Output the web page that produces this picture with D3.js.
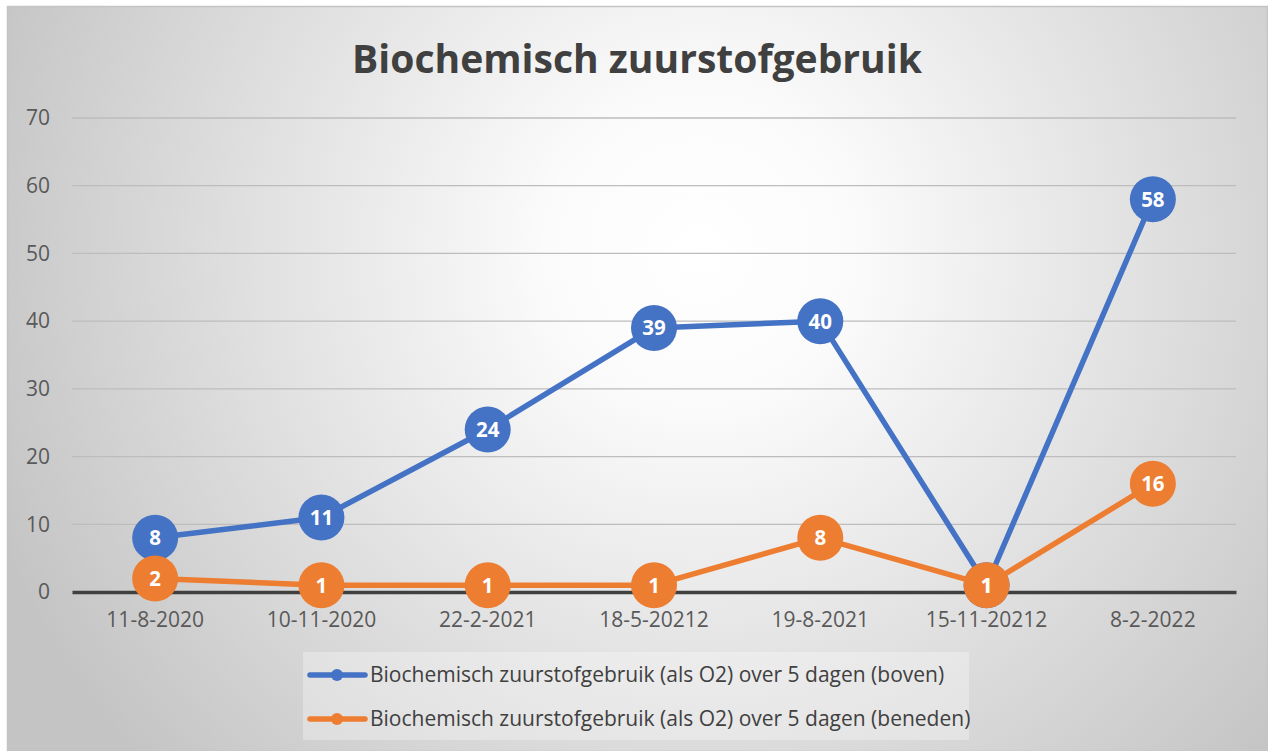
<!DOCTYPE html>
<html>
<head>
<meta charset="utf-8" />
<title>Biochemisch zuurstofgebruik</title>
<style>
html, body { margin:0; padding:0; background:#ffffff; }
svg { display:block; font-family:"Open Sans","Noto Sans",sans-serif; }
</style>
<script src="https://d3js.org/d3.v7.min.js"></script>
</head>
<body>
<script>
// data
var categories = ["11-8-2020","10-11-2020","22-2-2021","18-5-20212","19-8-2021","15-11-20212","8-2-2022"];
var boven = [8, 11, 24, 39, 40, 1, 58];
var beneden = [2, 1, 1, 1, 8, 1, 16];
var seriesNames = ["Biochemisch zuurstofgebruik (als O2) over 5 dagen (boven)",
                   "Biochemisch zuurstofgebruik (als O2) over 5 dagen (beneden)"];
var seriesColors = ["#4472C4", "#ED7D31"];
var yTicks = [0,10,20,30,40,50,60,70];

var W = 1268, H = 751;
var svg = d3.select("body").append("svg").attr("width", W).attr("height", H);

var defs = svg.append("defs");
var grad = defs.append("radialGradient").attr("id","bg")
  .attr("gradientUnits","userSpaceOnUse")
  .attr("cx",700).attr("cy",250).attr("r",760);
grad.append("stop").attr("offset","0%").attr("stop-color","#ffffff");
grad.append("stop").attr("offset","20%").attr("stop-color","#fbfbfb");
grad.append("stop").attr("offset","100%").attr("stop-color","#c4c4c4");

svg.append("rect").attr("x",7.5).attr("y",6.5).attr("width",W-8).attr("height",H-6)
  .attr("fill","url(#bg)").attr("stroke","#c4c4c4").attr("stroke-width",1.5);

// title
var title = svg.append("text").attr("x",637).attr("y",73).attr("text-anchor","middle")
  .attr("font-size",36).attr("font-weight","bold").attr("fill","#404040")
  .text("Biochemisch zuurstofgebruik");
var tw = title.node().getComputedTextLength();
title.attr("font-size", 36*570/tw);

// scales
var x = d3.scaleBand().domain(categories).range([72,1236]);
var y = d3.scaleLinear().domain([0,70]).range([592,118]);
var cx = function(c){ return x(c) + x.bandwidth()/2; };

// gridlines
svg.append("g").selectAll("line").data(yTicks.filter(function(d){return d>0;})).join("line")
  .attr("x1",72).attr("x2",1236)
  .attr("y1",function(d){return y(d);}).attr("y2",function(d){return y(d);})
  .attr("stroke","#bdbdbd").attr("stroke-width",1.3);

// y axis labels
var yAxis = svg.append("g").attr("transform","translate(60,0)")
  .call(d3.axisLeft(y).tickValues(yTicks).tickSize(0).tickPadding(10));
yAxis.select(".domain").remove();
yAxis.selectAll("text").attr("font-size",21).attr("fill","#595959")
  .attr("font-family","'Open Sans','Noto Sans',sans-serif");

// x axis
var xAxis = svg.append("g").attr("transform","translate(0,592)")
  .call(d3.axisBottom(x).tickSize(0).tickPadding(20));
xAxis.select(".domain").attr("stroke","#404040").attr("stroke-width",3.5);
xAxis.selectAll("text").attr("font-size",21).attr("fill","#595959")
  .attr("font-family","'Open Sans','Noto Sans',sans-serif");

// series
var allSeries = [boven, beneden];
var line = d3.line().x(function(d,i){return cx(categories[i]);}).y(function(d){return y(d);});
allSeries.forEach(function(vals, s){
  var g = svg.append("g");
  g.append("path").datum(vals).attr("d",line).attr("fill","none")
    .attr("stroke",seriesColors[s]).attr("stroke-width",5.5).attr("stroke-linejoin","round");
  g.selectAll("circle").data(vals).join("circle")
    .attr("cx",function(d,i){return cx(categories[i]);})
    .attr("cy",function(d){return y(d);})
    .attr("r",23).attr("fill",seriesColors[s]);
});
allSeries.forEach(function(vals, s){
  svg.append("g").selectAll("text").data(vals).join("text")
    .attr("x",function(d,i){return cx(categories[i]);})
    .attr("y",function(d){return y(d);})
    .attr("dy","0.36em").attr("text-anchor","middle")
    .attr("font-size",20.5).attr("font-weight","bold").attr("fill","#ffffff")
    .text(function(d){return d;});
});

// legend
var lg = svg.append("g");
lg.append("rect").attr("x",303).attr("y",652).attr("width",666).attr("height",88)
  .attr("fill","#ffffff").attr("fill-opacity",0.3);
seriesNames.forEach(function(name, s){
  var ly = 675 + s*44;
  lg.append("line").attr("x1",310).attr("x2",365).attr("y1",ly).attr("y2",ly)
    .attr("stroke",seriesColors[s]).attr("stroke-width",5.5).attr("stroke-linecap","round");
  lg.append("circle").attr("cx",337).attr("cy",ly).attr("r",6).attr("fill",seriesColors[s]);
  lg.append("text").attr("x",370).attr("y",ly).attr("dy","0.35em")
    .attr("font-size",21).attr("fill","#404040").text(name);
});
</script>
</body>
</html>
